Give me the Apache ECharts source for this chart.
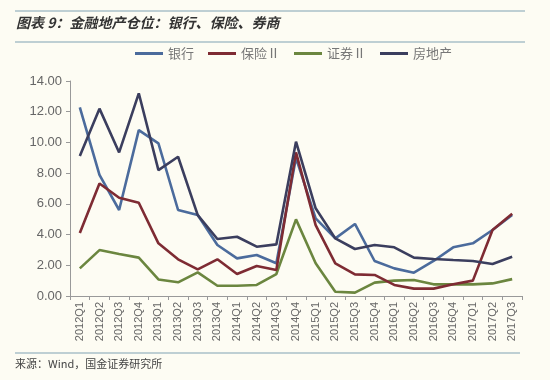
<!DOCTYPE html>
<html><head><meta charset="utf-8">
<script src="https://cdn.jsdelivr.net/npm/echarts@6/dist/echarts.min.js"></script>
<style>html,body{margin:0;padding:0;background:#fdfcf3;}#c{width:550px;height:380px;}</style>
</head><body><div id="c"></div>
<script>
var categories = ['2012Q1','2012Q2','2012Q3','2012Q4','2013Q1','2013Q2','2013Q3','2013Q4','2014Q1','2014Q2','2014Q3','2014Q4','2015Q1','2015Q2','2015Q3','2015Q4','2016Q1','2016Q2','2016Q3','2016Q4','2017Q1','2017Q2','2017Q3'];
var bank = [12.28,7.88,5.6,10.8,9.94,5.6,5.27,3.32,2.45,2.67,2.13,9.0,5.06,3.75,4.69,2.28,1.8,1.52,2.28,3.17,3.43,4.3,5.27];
var insurance = [4.1,7.33,6.4,6.07,3.43,2.39,1.73,2.39,1.43,1.95,1.69,9.35,4.62,2.13,1.41,1.37,0.72,0.48,0.48,0.76,1.0,4.3,5.35];
var securities = [1.8,2.99,2.73,2.5,1.08,0.89,1.54,0.67,0.67,0.72,1.43,4.99,2.13,0.28,0.22,0.87,1.0,1.04,0.76,0.76,0.76,0.82,1.1];
var realEstate = [9.11,12.2,9.35,13.2,8.2,9.07,5.27,3.71,3.86,3.21,3.36,10.05,5.71,3.75,3.06,3.32,3.17,2.5,2.41,2.34,2.28,2.08,2.56];
var yTicks = [0,2,4,6,8,10,12,14];
var seriesNames = ['银行','保险Ⅱ','证券Ⅱ','房地产'];
var colors = ['#4b6b9c','#7e2b33','#6b863f','#3b3e5e'];
var cjk = '"Noto Sans CJK SC", "Noto Sans", sans-serif';

var chart = echarts.init(document.getElementById('c'));
function mk(name, data, color, z){
  return {name:name, type:'line', data:data, symbol:'none', z:z,
    lineStyle:{color:color, width:2.6}, itemStyle:{color:color}};
}
chart.setOption({
  backgroundColor:'#fdfcf3',
  animation:false,
  color:colors,
  graphic:[
    {type:'line', shape:{x1:15,y1:11,x2:525,y2:11}, style:{stroke:'#a9c0c8', lineWidth:1.5}},
    {type:'line', shape:{x1:15,y1:42,x2:525,y2:42}, style:{stroke:'#a9c0c8', lineWidth:1.5}},
    {type:'text', left:16, top:16, style:{text:'图表 9：金融地产仓位：银行、保险、券商', fill:'#333', font:'italic bold 14px '+cjk}},
    {type:'line', shape:{x1:15,y1:353,x2:520,y2:353}, style:{stroke:'#a9c0c8', lineWidth:1.5}},
    {type:'text', left:15, top:358, style:{text:'来源：Wind，国金证券研究所', fill:'#444', font:'11px '+cjk}}
  ],
  legend:{
    top:42, left:130, itemWidth:28, itemHeight:3, itemGap:14, icon:'rect',
    data:seriesNames,
    textStyle:{color:'#777', fontSize:13, fontFamily:cjk}
  },
  grid:{left:70, right:28, top:81, bottom:84},
  xAxis:{
    type:'category', data:categories, boundaryGap:true,
    axisLine:{lineStyle:{color:'#999'}},
    axisTick:{show:true, interval:0, length:4, lineStyle:{color:'#999'}},
    axisLabel:{interval:0, rotate:90, color:'#666', fontSize:11, fontFamily:'"Liberation Sans", Arial, sans-serif', margin:6}
  },
  yAxis:{
    type:'value', min:0, max:14, interval:2,
    axisLine:{show:true, lineStyle:{color:'#999'}},
    axisTick:{show:true, length:4, inside:false, lineStyle:{color:'#999'}},
    splitLine:{show:false},
    axisLabel:{color:'#666', fontSize:13, fontFamily:'"Liberation Sans", Arial, sans-serif', margin:8,
      formatter:function(v){return v.toFixed(2);}}
  },
  series:[
    mk(seriesNames[0], bank, colors[0], 3),
    mk(seriesNames[1], insurance, colors[1], 4),
    mk(seriesNames[2], securities, colors[2], 2),
    mk(seriesNames[3], realEstate, colors[3], 5)
  ]
});
</script></body></html>
